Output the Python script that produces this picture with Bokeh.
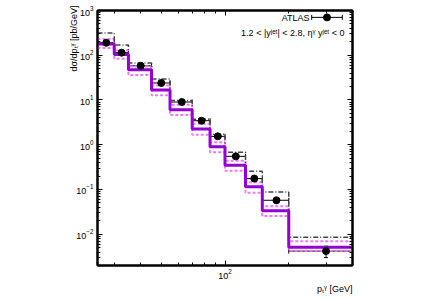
import numpy as np
from bokeh.plotting import figure
from bokeh.models import (LogAxis, FixedTicker, Label, Whisker, TeeHead, Title,
                          ColumnDataSource, Range1d, CustomJSTickFormatter)
from bokeh.embed import file_html
from bokeh.resources import INLINE

# ---- data ----
bin_edges = [25, 30, 35, 45, 55, 70, 85, 100, 125, 150, 200, 400]
data_x = [27.5, 32.5, 40, 50, 62.5, 77.5, 92.5, 112.5, 137.5, 175, 300]
data_y = [190, 114, 58, 24, 9.0, 3.44, 1.54, 0.55, 0.175, 0.0574, 0.0042]
data_err = [17, 10, 5.0, 2.1, 0.8, 0.31, 0.15, 0.055, 0.02, 0.0075, 0.0012]
theory_central = [179, 104, 47.4, 16.8, 6.07, 2.26, 0.90, 0.347, 0.115, 0.0335, 0.00513]
theory_upper = [231, 128, 56, 21.2, 7.8, 2.93, 1.13, 0.438, 0.145, 0.0422, 0.00698]
theory_lower = [146, 83, 36, 12.7, 4.6, 1.68, 0.676, 0.261, 0.0843, 0.0256, 0.00428]
other_pred = [315, 170, 67, 29.6, 9.8, 3.69, 1.71, 0.676, 0.255, 0.0875, 0.00857]

y_major = [1e-2, 1e-1, 1e0, 1e1, 1e2, 1e3]
x_major = [100]
x_minor = [30, 40, 50, 60, 70, 80, 90, 200, 300]

X0, X1 = 25, 400
Y0, Y1 = 0.002, 1000
FONT = "Liberation Sans"
YLABEL = "d\u03c3/dp\u209c\u1d5e [pb/GeV]"
XLABEL = "p\u209c\u1d5e [GeV]"

p = figure(width=420, height=296, x_axis_type="log", y_axis_type="log",
           x_range=Range1d(X0, X1), y_range=Range1d(Y0, Y1),
           output_backend="svg", toolbar_location=None,
           min_border_left=97, min_border_right=68, min_border_top=10,
           min_border_bottom=31, background_fill_color="white",
           border_fill_color="white")
p.grid.visible = False
p.outline_line_color = "black"
p.outline_line_width = 2

y_minor = [m * 10.0 ** e for e in range(-3, 3) for m in range(2, 10)]
y_minor = [v for v in y_minor if Y0 <= v <= Y1]
yt = FixedTicker(ticks=y_major, minor_ticks=y_minor)
xt = FixedTicker(ticks=x_major, minor_ticks=x_minor)

def style(ax, labels=True):
    ax.axis_line_color = "black"
    ax.axis_line_width = 2
    ax.major_tick_in = 5
    ax.major_tick_out = 0
    ax.minor_tick_in = 3
    ax.minor_tick_out = 0
    ax.major_tick_line_width = 1
    ax.minor_tick_line_width = 1
    ax.major_label_text_font = FONT
    ax.major_label_text_font_size = "9px"
    ax.major_label_text_color = "black"
    ax.major_label_standoff = 4
    if not labels:
        ax.formatter = CustomJSTickFormatter(code="return ''")
        ax.major_label_standoff = 0

p.yaxis.ticker = yt
p.xaxis.ticker = xt
style(p.yaxis[0])
style(p.xaxis[0])
p.xaxis[0].major_label_standoff = 3

ax_top = LogAxis(ticker=xt)
style(ax_top, labels=False)
p.add_layout(ax_top, "above")
ax_right = LogAxis(ticker=yt)
style(ax_right, labels=False)
p.add_layout(ax_right, "right")

# y-axis title: side title, aligned to the top end, pulled toward the axis
ytitle = Title(text=YLABEL, align="right", text_font=FONT,
               text_font_size="9px", text_font_style="normal",
               text_color="black", offset=-5, standoff=2)
try:
    ytitle.standoff = -10
except Exception:
    ytitle.standoff = 0
p.add_layout(ytitle, "left")
p.add_layout(Title(text=XLABEL, align="right",
                   text_font=FONT, text_font_size="9px",
                   text_font_style="normal", text_color="black",
                   standoff=0), "below")

def step_xy(vals):
    xs = list(bin_edges)
    ys = list(vals) + [vals[-1]]
    return xs, ys

# lower / upper scale variations (pink dashed)
for series in (theory_lower, theory_upper):
    xs, ys = step_xy(series)
    p.step(xs, ys, mode="after", line_color="#f07cf0", line_width=2,
           line_dash="3 2")
# other prediction (dark dash-dot)
xs, ys = step_xy(other_pred)
p.step(xs, ys, mode="after", line_color="#444444", line_width=1.5,
       line_dash="5 2 1 2")
# central theory (purple solid)
xs, ys = step_xy(theory_central)
p.step(xs, ys, mode="after", line_color="#9400d3", line_width=3)

# data
src = ColumnDataSource(dict(
    x=data_x, y=data_y,
    xl=bin_edges[:-1], xh=bin_edges[1:],
    yl=[v - e for v, e in zip(data_y, data_err)],
    yh=[v + e for v, e in zip(data_y, data_err)]))
p.add_layout(Whisker(source=src, base="y", lower="xl", upper="xh",
                     dimension="width", line_color="black", line_width=1,
                     lower_head=TeeHead(size=5, line_color="black"),
                     upper_head=TeeHead(size=5, line_color="black")))
p.add_layout(Whisker(source=src, base="x", lower="yl", upper="yh",
                     dimension="height", line_color="black", line_width=1,
                     lower_head=TeeHead(size=4, line_color="black"),
                     upper_head=TeeHead(size=4, line_color="black")))
p.scatter("x", "y", source=src, size=7, color="black")

# legend sample (ATLAS  |--*--|) placed by axis fractions
def fx(frac):
    return 10 ** (np.log10(X0) + frac * (np.log10(X1) - np.log10(X0)))
def fy(frac):
    return 10 ** (np.log10(Y0) + frac * (np.log10(Y1) - np.log10(Y0)))

ly = fy(0.973)
lx0, lx1, lxc = fx(0.84), fx(0.96), fx(0.90)
leg = ColumnDataSource(dict(x=[lxc], y=[ly], xl=[lx0], xh=[lx1]))
p.add_layout(Whisker(source=leg, base="y", lower="xl", upper="xh",
                     dimension="width", line_color="black", line_width=1,
                     lower_head=TeeHead(size=5, line_color="black"),
                     upper_head=TeeHead(size=5, line_color="black")))
p.scatter("x", "y", source=leg, size=7, color="black")

p.add_layout(Label(x=X1, y=Y1, x_offset=-43, y_offset=-7, text="ATLAS",
                   text_align="right", text_baseline="middle",
                   text_font=FONT, text_font_size="9px", text_color="black"))
p.add_layout(Label(x=X1, y=Y1, x_offset=-8, y_offset=-22,
                   text="1.2 < |y\u02b2\u1d49\u1d57| < 2.8, \u03b7\u1d5e y\u02b2\u1d49\u1d57 < 0",
                   text_align="right", text_baseline="middle",
                   text_font=FONT, text_font_size="9px", text_color="black"))

open("out.html", "w").write(file_html(p, INLINE))
